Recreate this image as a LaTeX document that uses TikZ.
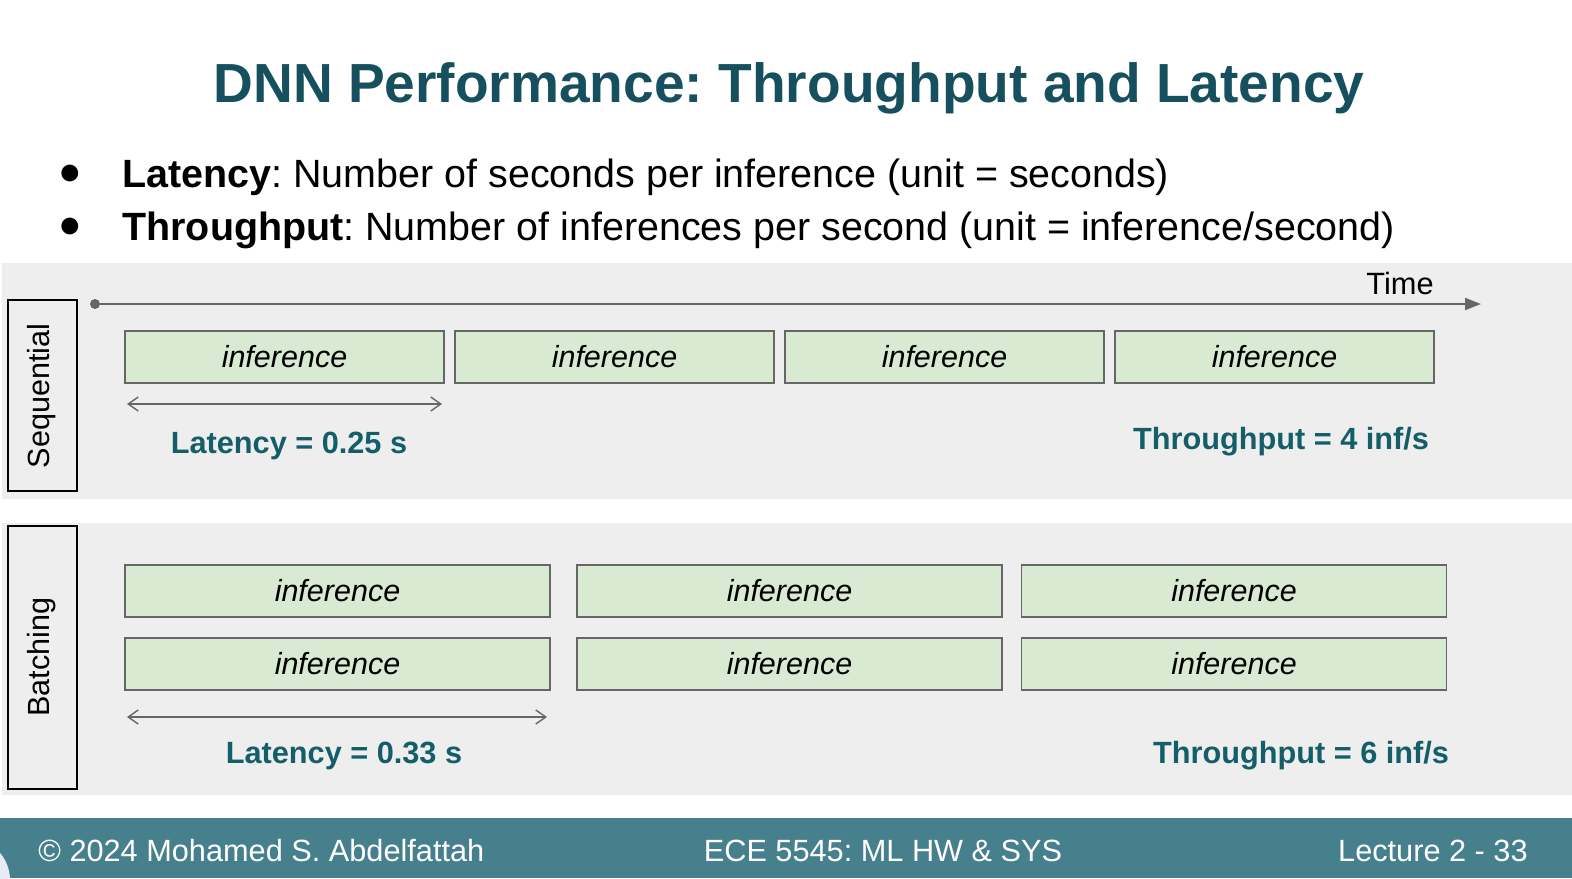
\documentclass[tikz,border=0pt]{standalone}
\usepackage{fontspec}
\setmainfont{Liberation Sans}
\usetikzlibrary{arrows.meta}
\frenchspacing
\definecolor{titleteal}{RGB}{22,79,94}
\definecolor{labteal}{RGB}{19,94,104}
\definecolor{footbar}{RGB}{70,128,141}
\definecolor{panelgray}{RGB}{238,238,238}
\definecolor{infgreen}{RGB}{217,234,211}
\definecolor{edgegray}{RGB}{102,102,102}
\definecolor{lavender}{RGB}{232,234,246}
\begin{document}
\begin{tikzpicture}[x=0.5pt,y=-0.5pt,
  infbox/.style={draw=edgegray,line width=0.8pt,fill=infgreen,inner sep=0pt,
    minimum height=26pt,font=\fontsize{15.25}{18}\selectfont\itshape},
  seqbox/.style={infbox,minimum width=159.5pt},
  batbox/.style={infbox,minimum width=212.5pt},
  modebox/.style={draw=black,line width=0.8pt,inner sep=0pt,minimum width=34.5pt,
    font=\fontsize{15.3}{18}\selectfont},
  metric/.style={text=labteal,font=\fontsize{15.35}{18}\selectfont\bfseries},
  latarrow/.style={draw=edgegray,line width=0.7pt,{Straight Barb[length=5pt,width=7pt]}-{Straight Barb[length=5pt,width=7pt]}},
  foot/.style={text=white,font=\fontsize{15.35}{18}\selectfont}]
\useasboundingbox (0,0) rectangle (1572,878);
\fill[white] (0,0) rectangle (1572,878);
% panels
\fill[panelgray] (2,263) rectangle (1572,499);
\fill[panelgray] (2,523) rectangle (1572,795);
% footer
\fill[footbar] (0,818) rectangle (1572,878);
\begin{scope}
\clip (0,818) rectangle (1572,878);
\fill[lavender] (-32,880) circle (42);
\end{scope}
% title
\node[text=titleteal,font=\fontsize{27.55}{33}\selectfont\bfseries] (title) at (789,88) {DNN Performance: Throughput and Latency};
% bullets
\node[font=\fontsize{19.5}{22}\selectfont] (b1) at (70,175) {●};
\node[font=\fontsize{19.5}{22}\selectfont] (b2) at (70,228) {●};
\node[anchor=base west,font=\fontsize{19.72}{23}\selectfont,inner sep=0pt] (t1) at (122,187) {\textbf{Latency}: Number of seconds per inference (unit = seconds)};
\node[anchor=base west,font=\fontsize{19.72}{23}\selectfont,inner sep=0pt] (t2) at (122,240) {\textbf{Throughput}: Number of inferences per second (unit = inference/second)};
% time axis
\fill[edgegray] (95,304) circle (5);
\coordinate (tstart) at (95,304);
\coordinate (tend) at (1481,304);
\draw[edgegray,line width=1pt,-{Triangle[length=8pt,width=6pt]}] (tstart) -- (tend);
\node[font=\fontsize{15.4}{18}\selectfont] (time) at (1400,283) {Time};
% sequential
\node[modebox,minimum height=95.5pt] (seq) at (42.5,395.5) {};
\node[rotate=90,font=\fontsize{15.3}{18}\selectfont] (seqlab) at (42,396) {Sequential};
\node[seqbox] (s1) at (284.5,357) {inference};
\node[seqbox] (s2) at (614.5,357) {inference};
\node[seqbox] (s3) at (944.5,357) {inference};
\node[seqbox] (s4) at (1274.5,357) {inference};
\coordinate (la1) at (127,404);
\coordinate (la2) at (442,404);
\draw[latarrow] (la1) -- (la2);
\node[metric] (lat1) at (289,446) {Latency = 0.25 s};
\node[metric] (thr1) at (1281,442) {Throughput = 4 inf/s};
% batching
\node[modebox,minimum height=131.5pt] (bat) at (42.5,657.5) {};
\node[rotate=90,font=\fontsize{15.3}{18}\selectfont] (batlab) at (42,657) {Batching};
\node[batbox] (a1) at (337.5,591) {inference};
\node[batbox] (a2) at (789.5,591) {inference};
\node[batbox] (a3) at (1234,591) {inference};
\node[batbox] (c1) at (337.5,664) {inference};
\node[batbox] (c2) at (789.5,664) {inference};
\node[batbox] (c3) at (1234,664) {inference};
\coordinate (lb1) at (127,717);
\coordinate (lb2) at (547,717);
\draw[latarrow] (lb1) -- (lb2);
\node[metric] (lat2) at (344,756) {Latency = 0.33 s};
\node[metric] (thr2) at (1301,756) {Throughput = 6 inf/s};
% footer text
\node[foot,anchor=west,inner sep=0pt] (f1) at (38,851) {© 2024 Mohamed S. Abdelfattah};
\node[foot] (f2) at (883,851) {ECE 5545: ML HW \& SYS};
\node[foot,anchor=east,inner sep=0pt] (f3) at (1528,851) {Lecture 2 - 33};
\end{tikzpicture}
\end{document}
